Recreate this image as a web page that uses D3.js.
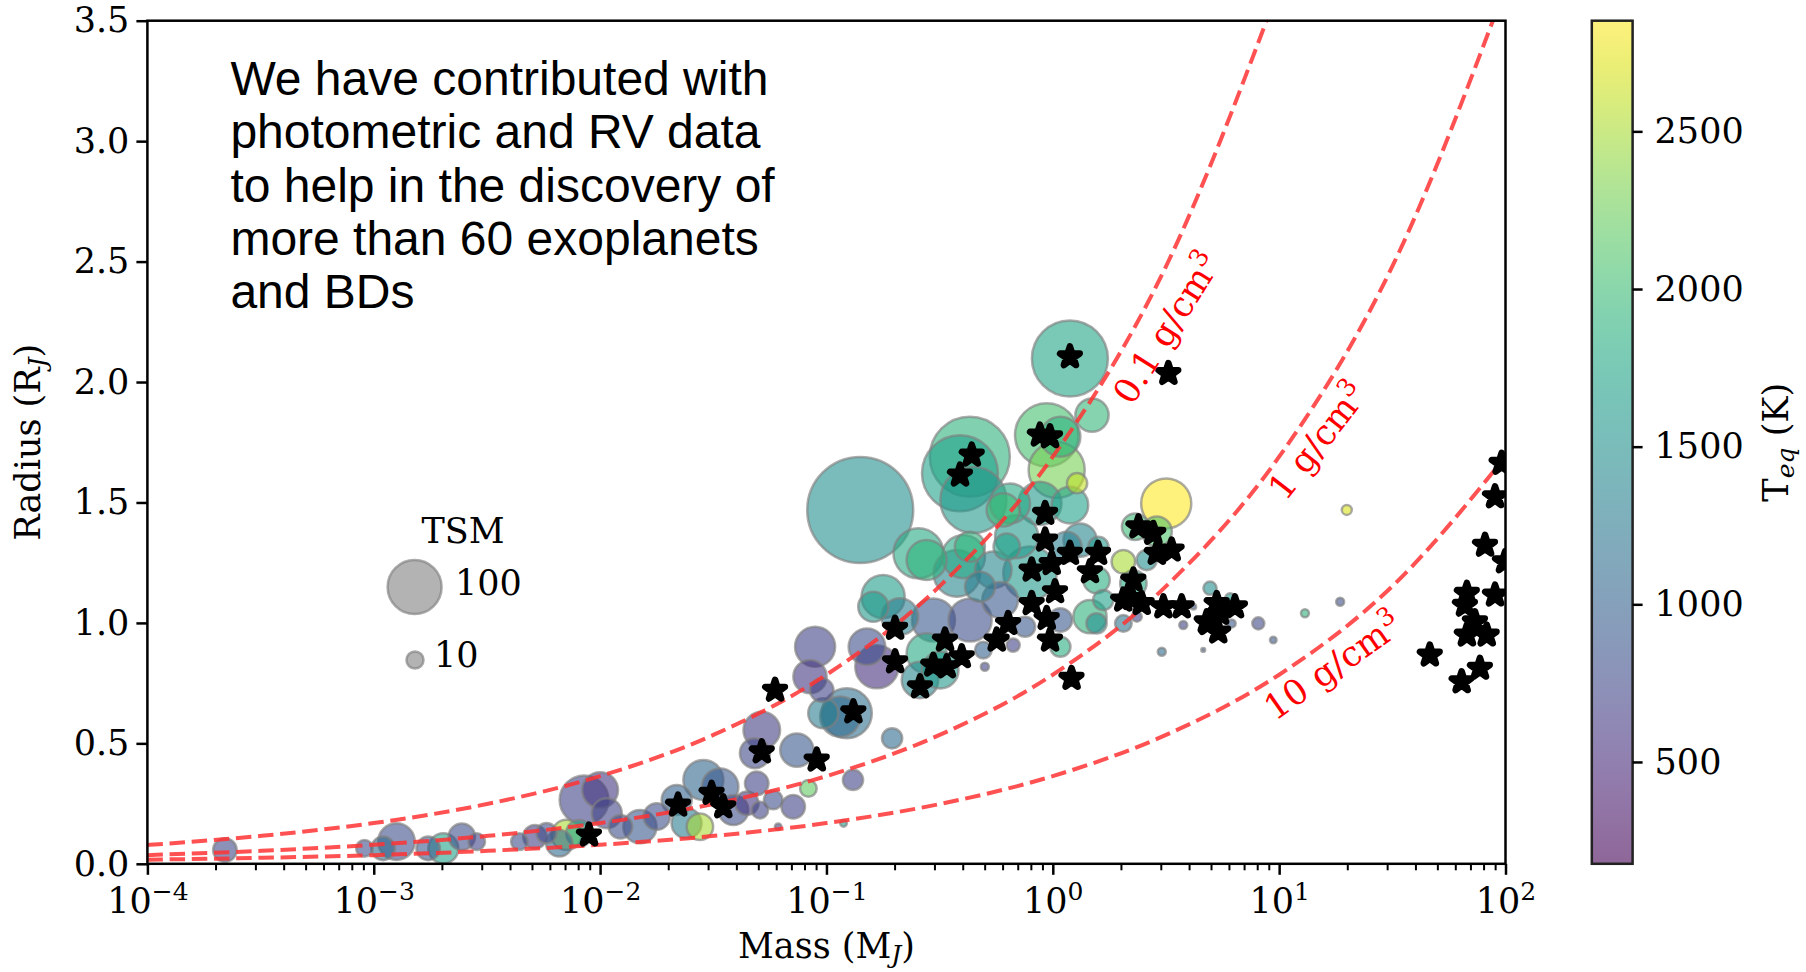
<!DOCTYPE html>
<html>
<head>
<meta charset="utf-8">
<script src="https://cdn.jsdelivr.net/npm/d3@7"></script>
<style>
body { margin: 0; background: #fff; }
svg { display: block; }
</style>
</head>
<body>
<script>
var w = 1806;
var h = 972;
var x0 = 147.4, x1 = 1505.5, y0 = 863.8, y1 = 20.7;

// planets (bubbles): mass [MJ], radius [RJ], TSM, Teq [K]
var bubbleMass = [2.2e-4, 9.1e-4, 1.10e-3, 1.26e-3, 1.74e-3, 2.03e-3, 2.45e-3, 2.85e-3, 4.4e-3, 5.15e-3, 5.8e-3, 8.5e-3, 0.0100, 7.1e-3, 8.1e-3, 6.6e-3,
  0.0107, 0.0123, 0.0150, 0.0178, 0.0218, 0.0241, 0.0286, 0.0339, 0.0276, 0.0388, 0.0445, 0.0492, 0.0508, 0.0582, 0.0518, 0.0483, 0.074, 0.0713, 0.0832,
  0.0891, 0.0846, 0.0953, 0.123, 0.115, 0.0968, 0.119, 0.0612, 0.131,
  0.141, 0.43, 0.389, 0.446, 0.255, 0.277, 0.403, 0.604, 0.178, 0.161, 0.211, 0.297, 0.431, 0.377, 0.477, 0.151, 0.167, 0.195, 0.277, 0.259, 0.318, 0.501, 0.493,
  1.19, 1.49, 0.94, 1.08, 1.04, 1.28, 0.647, 0.877, 1.19, 0.692, 1.32, 0.43, 0.793, 0.546, 1.15, 1.59, 1.56, 1.67, 2.05, 2.6, 2.27, 3.17, 2.31, 2.88,
  2.05, 3.03, 3.77, 4.18, 2.35, 4.95, 4.62, 1.46, 1.56, 1.08, 0.668, 0.754, 1.08,
  19.9, 6.07, 8.09, 9.42, 13.0, 18.6, 6.17,
  0.626, 0.585];
var bubbleRadius = [0.057, 0.064, 0.064, 0.092, 0.064, 0.064, 0.112, 0.092, 0.092, 0.112, 0.127, 0.265, 0.306, 0.12, 0.127, 0.085,
  0.21, 0.154, 0.154, 0.196, 0.265, 0.168, 0.348, 0.32, 0.154, 0.223, 0.251, 0.334, 0.223, 0.265, 0.555, 0.459, 0.472, 0.237, 0.313,
  0.901, 0.777, 0.721, 0.625, 0.611, 0.625, 0.168, 0.154, 0.348,
  1.469, 1.69, 1.621, 1.51, 1.289, 1.261, 1.275, 1.469, 1.109, 1.067, 1.026, 1.012, 1.012, 1.206, 1.15, 0.901, 0.818, 0.521, 0.874, 0.763, 0.804, 0.818, 0.887,
  2.098, 1.863, 1.78, 1.773, 1.635, 1.58, 1.496, 1.496, 1.489, 1.358, 1.344, 1.316, 1.206, 1.22, 1.316, 1.316, 1.178, 1.095, 1.254, 1.261, 1.164, 1.496, 1.399, 1.379,
  0.998, 0.88, 0.991, 1.067, 1.026, 1.144, 0.888, 1.026, 0.998, 0.901, 0.908, 0.984, 1.012,
  1.469, 1.102, 0.998, 0.929, 1.04, 1.088, 0.998,
  1.316, 1.095];
var bubbleTsm = [19, 9.5, 19, 46, 19, 31, 24, 9.5, 9.5, 19, 14, 82, 44, 31, 24, 24,
  31, 19, 38, 24, 31, 31, 55, 46, 24, 31, 19, 19, 9.5, 12, 46, 31, 38, 19, 9.5,
  55, 38, 19, 86, 55, 31, 1.5, 1.5, 14,
  385, 220, 198, 150, 86, 55, 64, 38, 64, 31, 46, 64, 64, 75, 31, 46, 64, 14, 55, 46, 46, 2.2, 9.5,
  198, 38, 138, 55, 108, 14, 55, 64, 46, 64, 38, 31, 98, 46, 31, 14, 24, 14, 19, 14, 24, 86, 24, 31,
  9.5, 2.2, 2.2, 1, 3.4, 6, 0.5, 38, 14, 14, 6, 14, 19,
  3.4, 3.4, 5, 1.5, 2.2, 2.2, 2.2,
  24, 44];
var bubbleTeq = [750, 800, 1100, 800, 900, 1700, 800, 700, 800, 650, 800, 700, 600, 2500, 1700, 1100,
  700, 800, 900, 800, 1000, 1300, 1050, 900, 2500, 800, 600, 700, 700, 800, 650, 750, 900, 700, 2200,
  700, 600, 700, 1150, 1100, 1300, 1700, 700, 700,
  1500, 1900, 1700, 1600, 1800, 1900, 1800, 2000, 1650, 1600, 1300, 900, 800, 1400, 1300, 800, 550, 1100, 1800, 1400, 1600, 700, 1000,
  1750, 1950, 2050, 1900, 2300, 2600, 1800, 1600, 1700, 1600, 1400, 1900, 1600, 1400, 1300, 1600, 1850, 1700, 2500, 1500, 1800, 2850, 2000, 2100,
  1200, 1100, 700, 900, 700, 1500, 900, 1900, 1500, 1850, 700, 900, 900,
  2700, 1600, 750, 900, 1900, 800, 900,
  1700, 900];

// our contributed planets and BDs (stars)
var starMass = [8.93e-3, 0.0221, 0.0311, 0.035, 0.0518, 0.0906, 0.0593, 0.1315,
  0.4385, 0.389, 0.201, 0.334, 0.201, 0.2965, 0.34, 0.396, 0.259, 0.565, 0.635,
  1.19, 3.24, 0.877, 0.972, 0.925, 0.925, 2.39, 2.78, 2.88, 3.35, 1.19, 0.989, 0.807, 1.585, 1.459, 1.023, 0.807, 0.94, 0.972, 2.27, 2.047, 2.47, 3.08, 3.71, 1.21, 4.86,
  2.23, 5.3, 6.38, 4.79, 5.38, 5.48,
  96.2, 89.9, 81.2, 99.5, 89.9, 67.5, 66.2, 73.3, 67.5, 82.6, 46.3, 77.1, 64.0];
var starRadius = [0.12, 0.244, 0.293, 0.237, 0.465, 0.431, 0.721, 0.631,
  1.697, 1.614, 0.978, 0.929, 0.839, 0.825, 0.818, 0.86, 0.735, 0.929, 0.998,
  2.105, 2.036, 1.78, 1.773, 1.455, 1.344, 1.399, 1.372, 1.289, 1.303, 1.289, 1.247, 1.22, 1.289, 1.213, 1.13, 1.081, 1.019, 0.929, 1.178, 1.095, 1.081, 1.067, 1.067, 0.77, 0.998,
  1.102, 1.081, 1.067, 1.005, 0.963, 1.04,
  1.663, 1.524, 1.323, 1.254, 1.116, 1.123, 1.074, 1.005, 0.95, 0.95, 0.867, 0.812, 0.756];

// iso-density curves
var curveMass = [1e-4, 3.2e-4, 1e-3, 3.2e-3, 1e-2, 3.2e-2, 0.1, 0.32, 1, 3.2, 10, 32, 100];
var radius01 = [0.078, 0.116, 0.169, 0.249, 0.364, 0.537, 0.785, 1.157, 1.69, 2.49, 3.64, null, null];
var radius1 = [0.036, 0.054, 0.079, 0.116, 0.169, 0.249, 0.364, 0.537, 0.785, 1.157, 1.69, 2.49, 3.64];
var radius10 = [0.017, 0.025, 0.036, 0.054, 0.079, 0.116, 0.169, 0.249, 0.364, 0.537, 0.785, 1.157, 1.69];
var densityText = ["0.1 g/cm", "1 g/cm", "10 g/cm"];
var labelMass = [3.19, 14.8, 17.3];
var labelRadius = [2.224, 1.755, 0.821];
var labelAngle = [-58, -52, -35];

var xTicks = [1e-4, 1e-3, 1e-2, 1e-1, 1, 10, 100];
var xTickExp = ["\u22124", "\u22123", "\u22122", "\u22121", "0", "1", "2"];
var yTicks = [0, 0.5, 1, 1.5, 2, 2.5, 3, 3.5];
var cbTicks = [500, 1000, 1500, 2000, 2500];
var noteLines = ["We have contributed with", "photometric and RV data", "to help in the discovery of", "more than 60 exoplanets", "and BDs"];

var serif = "DejaVu Serif";

var xScale = d3.scaleLog().domain([1e-4, 1e2]).range([x0, x1]);
var yScale = d3.scaleLinear().domain([0, 3.5]).range([y0, y1]);
var rScale = d3.scaleSqrt().domain([0, 100]).range([0, 27]);
var cScale = d3.scaleSequential(d3.interpolateViridis).domain([177, 2851]);

var svg = d3.select("body")
            .append("svg")
            .attr("width", w)
            .attr("height", h);

svg.append("rect").attr("width", w).attr("height", h).attr("fill", "white");

var defs = svg.append("defs");
defs.append("clipPath").attr("id", "plotclip")
    .append("rect")
    .attr("x", x0).attr("y", y1)
    .attr("width", x1 - x0).attr("height", y0 - y1);

var plot = svg.append("g").attr("clip-path", "url(#plotclip)");

// bubbles, biggest first
var order = d3.range(bubbleMass.length).sort(function (a, b) { return bubbleTsm[b] - bubbleTsm[a]; });
plot.selectAll("circle")
    .data(order)
    .enter()
    .append("circle")
    .attr("cx", function (i) { return xScale(bubbleMass[i]); })
    .attr("cy", function (i) { return yScale(bubbleRadius[i]); })
    .attr("r", function (i) { return rScale(bubbleTsm[i]); })
    .attr("fill", function (i) { return cScale(bubbleTeq[i]); })
    .attr("fill-opacity", 0.6)
    .attr("stroke", "grey")
    .attr("stroke-opacity", 0.65)
    .attr("stroke-width", 2.5);

// density lines
var line = d3.line()
    .defined(function (d) { return d[1] != null; })
    .x(function (d) { return xScale(d[0]); })
    .y(function (d) { return yScale(d[1]); })
    .curve(d3.curveMonotoneX);

[radius01, radius1, radius10].forEach(function (rad) {
    plot.append("path")
        .attr("d", line(curveMass.map(function (m, i) { return [m, rad[i]]; })))
        .attr("fill", "none")
        .attr("stroke", "#ff3333")
        .attr("stroke-opacity", 0.85)
        .attr("stroke-width", 4)
        .attr("stroke-dasharray", "15.5 6.7");
});

// stars (thick round edge gives the blunt look)
var star = d3.symbol().type(d3.symbolStar).size(120);
plot.selectAll("path.star")
    .data(d3.range(starMass.length))
    .enter()
    .append("path")
    .attr("class", "star")
    .attr("d", star)
    .attr("transform", function (i) { return "translate(" + xScale(starMass[i]) + "," + yScale(starRadius[i]) + ")"; })
    .attr("fill", "black")
    .attr("stroke", "black")
    .attr("stroke-width", 6.5)
    .attr("stroke-linejoin", "round");

// density labels
densityText.forEach(function (t, i) {
    var lx = xScale(labelMass[i]), ly = yScale(labelRadius[i]);
    var tx = svg.append("text")
        .attr("transform", "translate(" + lx + "," + ly + ") rotate(" + labelAngle[i] + ")")
        .attr("text-anchor", "middle")
        .attr("dy", "0.35em")
        .attr("font-family", serif)
        .attr("font-size", 35)
        .attr("fill", "red");
    tx.append("tspan").text(t);
    tx.append("tspan").attr("dy", -14).attr("font-size", 25).text("3");
});

// x axis
var minorTicks = [];
for (var k = -4; k < 2; k++) {
    for (var m = 2; m < 10; m++) minorTicks.push(m * Math.pow(10, k));
}
var gxMinor = svg.append("g")
    .attr("transform", "translate(0," + y0 + ")")
    .call(d3.axisBottom(xScale).tickValues(minorTicks).tickSize(6.5).tickFormat(""));
gxMinor.select(".domain").remove();
gxMinor.selectAll(".tick line").attr("stroke-width", 2).attr("stroke", "black");

var gx = svg.append("g")
    .attr("transform", "translate(0," + y0 + ")")
    .call(d3.axisBottom(xScale).tickValues(xTicks).tickSize(11).tickPadding(8).tickFormat(""));
gx.select(".domain").remove();
gx.selectAll(".tick line").attr("stroke-width", 2.5).attr("stroke", "black");
gx.selectAll(".tick text").each(function (d, i) {
    var t = d3.select(this)
        .attr("font-family", serif)
        .attr("font-size", 35)
        .attr("fill", "black")
        .attr("dy", null)
        .attr("y", 49);
    t.append("tspan").text("10");
    t.append("tspan").attr("dy", -13).attr("font-size", 25).text(xTickExp[i]);
});

// y axis
var gy = svg.append("g")
    .attr("transform", "translate(" + x0 + ",0)")
    .call(d3.axisLeft(yScale).tickValues(yTicks).tickSize(11).tickPadding(7).tickFormat(d3.format(".1f")));
gy.select(".domain").remove();
gy.selectAll(".tick line").attr("stroke-width", 2.5).attr("stroke", "black");
gy.selectAll(".tick text").attr("font-family", serif).attr("font-size", 35).attr("fill", "black");

// frame
svg.append("rect")
    .attr("x", x0).attr("y", y1)
    .attr("width", x1 - x0).attr("height", y0 - y1)
    .attr("fill", "none")
    .attr("stroke", "black")
    .attr("stroke-width", 2.5);

// axis labels
var xl = svg.append("text")
    .attr("x", (x0 + x1) / 2).attr("y", 958)
    .attr("text-anchor", "middle")
    .attr("font-family", serif).attr("font-size", 35);
xl.append("tspan").text("Mass (M");
xl.append("tspan").attr("dy", 5).attr("font-size", 25).attr("font-style", "italic").text("J");
xl.append("tspan").attr("dy", -5).text(")");

var yl = svg.append("text")
    .attr("transform", "translate(40," + (y0 + y1) / 2 + ") rotate(-90)")
    .attr("text-anchor", "middle")
    .attr("font-family", serif).attr("font-size", 35);
yl.append("tspan").text("Radius (R");
yl.append("tspan").attr("dy", 6).attr("font-size", 25).attr("font-style", "italic").text("J");
yl.append("tspan").attr("dy", -6).text(")");

// colorbar
var cbx = 1591.8, cbw = 40.8;
var cbScale = d3.scaleLinear().domain([177, 2851]).range([y0, y1]);
var grad = defs.append("linearGradient")
    .attr("id", "cbgrad")
    .attr("x1", 0).attr("y1", 1).attr("x2", 0).attr("y2", 0);
d3.range(0, 1.001, 0.05).forEach(function (t) {
    grad.append("stop")
        .attr("offset", t)
        .attr("stop-color", d3.interpolateViridis(t));
});
svg.append("rect")
    .attr("x", cbx).attr("y", y1)
    .attr("width", cbw).attr("height", y0 - y1)
    .attr("fill", "url(#cbgrad)")
    .attr("fill-opacity", 0.6);
svg.append("rect")
    .attr("x", cbx).attr("y", y1)
    .attr("width", cbw).attr("height", y0 - y1)
    .attr("fill", "none")
    .attr("stroke", "#222")
    .attr("stroke-width", 2.5);
var gcb = svg.append("g")
    .attr("transform", "translate(" + (cbx + cbw) + ",0)")
    .call(d3.axisRight(cbScale).tickValues(cbTicks).tickSize(10).tickPadding(12).tickFormat(d3.format("d")));
gcb.select(".domain").remove();
gcb.selectAll(".tick line").attr("stroke-width", 2.5).attr("stroke", "black");
gcb.selectAll(".tick text").attr("font-family", serif).attr("font-size", 35).attr("fill", "black");

var cl = svg.append("text")
    .attr("transform", "translate(1788," + (y0 + y1) / 2 + ") rotate(-90)")
    .attr("text-anchor", "middle")
    .attr("font-family", serif).attr("font-size", 35);
cl.append("tspan").text("T");
cl.append("tspan").attr("dy", 6).attr("font-size", 25).attr("font-style", "italic").text("eq");
cl.append("tspan").attr("dy", -6).text(" (K)");

// TSM size legend
svg.append("text")
    .attr("x", 463).attr("y", 543)
    .attr("text-anchor", "middle")
    .attr("font-family", serif).attr("font-size", 35)
    .text("TSM");
svg.append("circle")
    .attr("cx", 414.6).attr("cy", 587).attr("r", rScale(100))
    .attr("fill", "grey").attr("fill-opacity", 0.6)
    .attr("stroke", "grey").attr("stroke-opacity", 0.65).attr("stroke-width", 2.5);
svg.append("text")
    .attr("x", 455).attr("y", 595)
    .attr("font-family", serif).attr("font-size", 35)
    .text("100");
svg.append("circle")
    .attr("cx", 415).attr("cy", 660).attr("r", rScale(10))
    .attr("fill", "grey").attr("fill-opacity", 0.6)
    .attr("stroke", "grey").attr("stroke-opacity", 0.65).attr("stroke-width", 2.5);
svg.append("text")
    .attr("x", 434).attr("y", 667)
    .attr("font-family", serif).attr("font-size", 35)
    .text("10");

// note
svg.append("g").selectAll("text")
    .data(noteLines)
    .enter()
    .append("text")
    .attr("x", 230.4)
    .attr("y", function (d, i) { return 95 + i * 53.3; })
    .attr("font-family", "Liberation Sans, Arial, sans-serif")
    .attr("font-size", 48)
    .attr("fill", "black")
    .text(function (d) { return d; });
</script>
</body>
</html>
